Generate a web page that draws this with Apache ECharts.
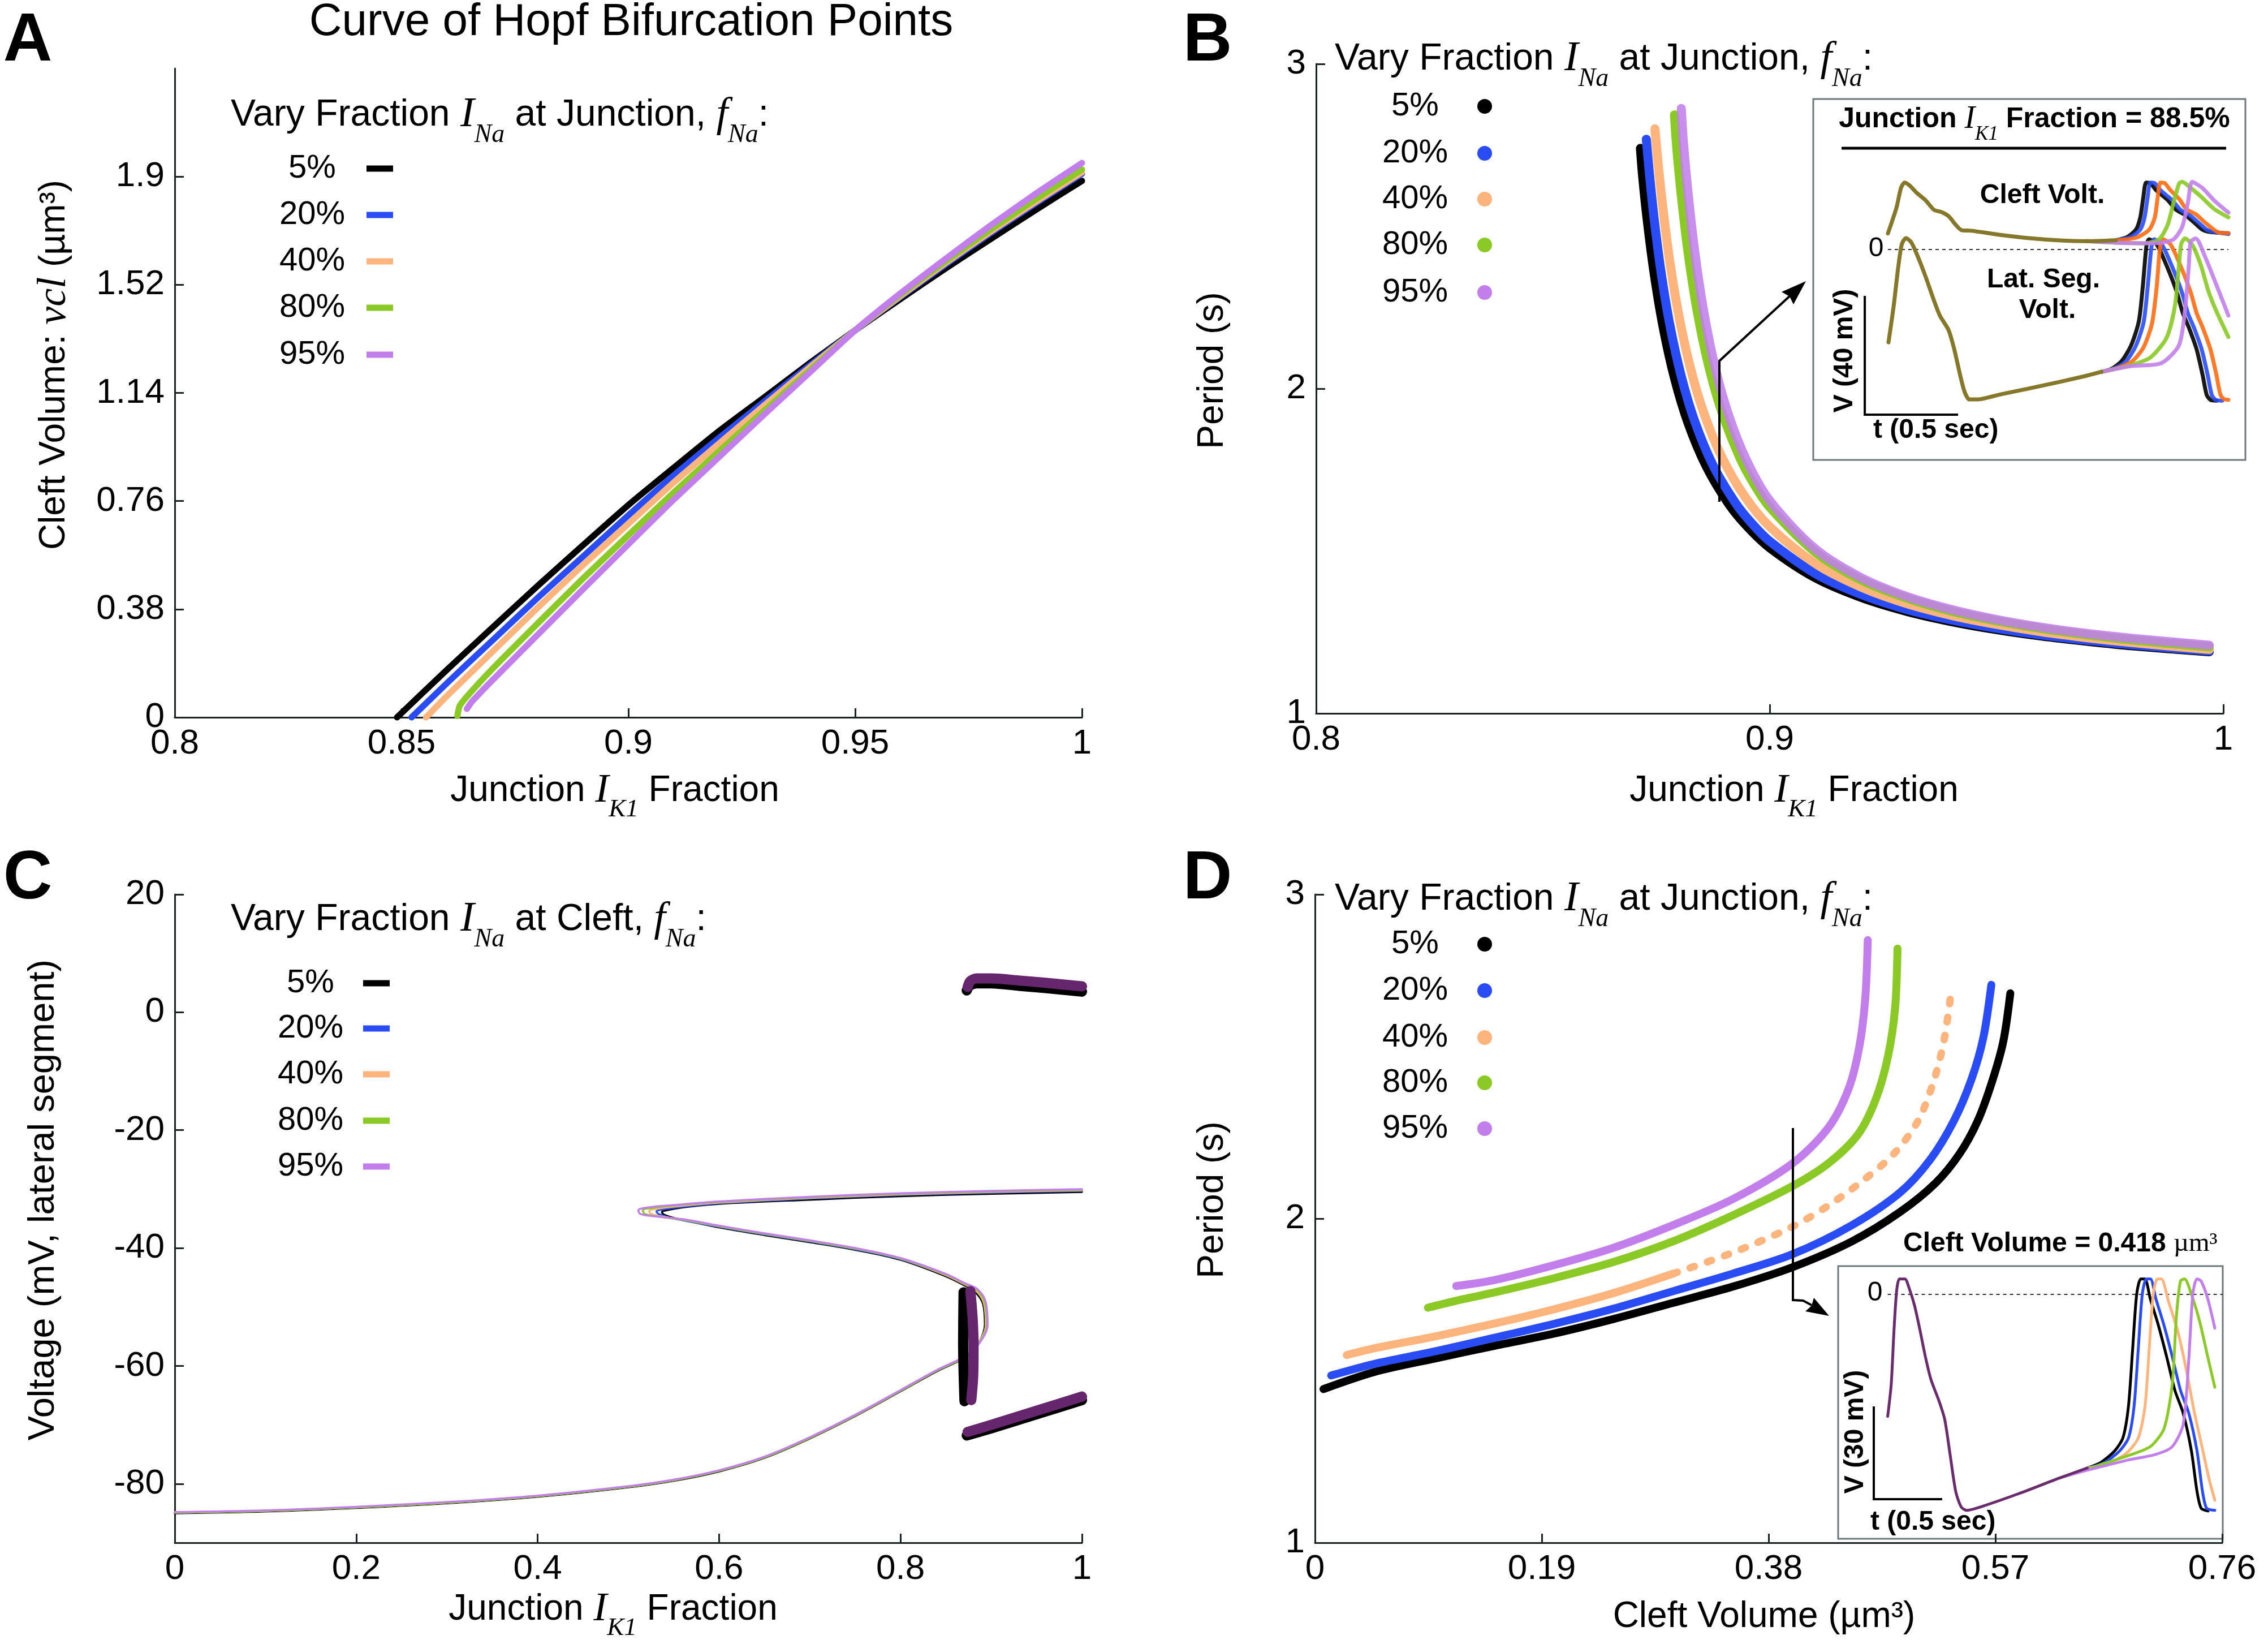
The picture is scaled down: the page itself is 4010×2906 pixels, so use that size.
<!DOCTYPE html>
<html><head><meta charset="utf-8">
<script src="https://cdn.jsdelivr.net/npm/echarts@6/dist/echarts.min.js"></script>
<style>html,body{margin:0;padding:0;background:#fff}#c{width:4010px;height:2906px}</style>
</head><body><div id="c"></div>
<script>
// ---------------- data ----------------
const fNaLabels = ['5%','20%','40%','80%','95%'];
const seriesColors = ['#000000','#2a4cf5','#fdb47d','#8ac926','#c27feb'];

// Panel A: cleft volume vs junction IK1 fraction
const aTicksX = [0.8,0.85,0.9,0.95,1];
const aTicksY = [0,0.38,0.76,1.14,1.52,1.9];
const aBlack = [[0.849,0],[0.86,0.167],[0.87,0.315],[0.88,0.462],[0.89,0.605],[0.9,0.746],[0.91,0.877],[0.92,1.006],[0.93,1.125],[0.94,1.245],[0.95,1.36],[0.96,1.47],[0.97,1.578],[0.98,1.682],[0.99,1.785],[1.0,1.885]];
const aBlue = [[0.8522,0],[0.86,0.12],[0.87,0.27],[0.88,0.42],[0.89,0.565],[0.9,0.71],[0.91,0.85],[0.92,0.982],[0.93,1.11],[0.94,1.237],[0.95,1.36],[0.96,1.478],[0.97,1.592],[0.98,1.703],[0.99,1.808],[1.0,1.91]];
const aOrange = [[0.8554,0],[0.86,0.075],[0.87,0.23],[0.88,0.385],[0.89,0.535],[0.9,0.68],[0.91,0.825],[0.92,0.962],[0.93,1.097],[0.94,1.23],[0.95,1.36],[0.96,1.48],[0.97,1.597],[0.98,1.708],[0.99,1.813],[1.0,1.915]];
const aGreen = [[0.8623,0.005],[0.8628,0.04],[0.8645,0.075],[0.87,0.17],[0.88,0.33],[0.89,0.488],[0.9,0.64],[0.91,0.79],[0.92,0.935],[0.93,1.078],[0.94,1.22],[0.95,1.36],[0.96,1.485],[0.97,1.603],[0.98,1.716],[0.99,1.823],[1.0,1.925]];
const aPurple = [[0.8644,0.03],[0.8655,0.055],[0.87,0.13],[0.88,0.29],[0.89,0.45],[0.9,0.608],[0.91,0.765],[0.92,0.915],[0.93,1.065],[0.94,1.212],[0.95,1.36],[0.96,1.49],[0.97,1.612],[0.98,1.73],[0.99,1.842],[1.0,1.948]];

// Panel B: period vs junction IK1 fraction
const bTicksX = [0.8,0.9,1];
const bTicksY = [1,2,3];
const bBlack = [[0.8715,2.74],[0.872,2.652],[0.873,2.519],[0.8745,2.357],[0.8765,2.19],[0.879,2.033],[0.882,1.894],[0.886,1.761],[0.891,1.644],[0.895,1.576],[0.9,1.51],[0.91,1.418],[0.92,1.358],[0.93,1.315],[0.94,1.283],[0.95,1.258],[0.96,1.238],[0.97,1.222],[0.98,1.208],[0.9969,1.19]];
const bBlue = [[0.8728,2.768],[0.8735,2.659],[0.8745,2.526],[0.876,2.363],[0.878,2.195],[0.8805,2.038],[0.8835,1.898],[0.8875,1.764],[0.8925,1.647],[0.896,1.586],[0.9,1.53],[0.91,1.431],[0.92,1.367],[0.93,1.321],[0.94,1.288],[0.95,1.262],[0.96,1.241],[0.97,1.225],[0.98,1.211],[0.9969,1.192]];
const bOrange = [[0.8747,2.8],[0.8755,2.679],[0.8765,2.55],[0.878,2.389],[0.88,2.223],[0.8825,2.065],[0.8855,1.924],[0.8895,1.788],[0.8945,1.668],[0.9,1.575],[0.91,1.462],[0.92,1.39],[0.93,1.339],[0.94,1.302],[0.95,1.274],[0.96,1.251],[0.97,1.233],[0.98,1.218],[0.9969,1.197]];
const bGreen = [[0.879,2.843],[0.8795,2.743],[0.8805,2.597],[0.882,2.42],[0.884,2.24],[0.8865,2.073],[0.8895,1.926],[0.8935,1.785],[0.8965,1.707],[0.9,1.635],[0.91,1.497],[0.92,1.412],[0.93,1.356],[0.94,1.315],[0.95,1.285],[0.96,1.261],[0.97,1.242],[0.98,1.226],[0.9969,1.205]];
const bPurple = [[0.8805,2.863],[0.881,2.754],[0.882,2.602],[0.8835,2.419],[0.8855,2.234],[0.888,2.063],[0.891,1.916],[0.895,1.776],[0.9,1.655],[0.91,1.507],[0.92,1.419],[0.93,1.361],[0.94,1.32],[0.95,1.289],[0.96,1.265],[0.97,1.246],[0.98,1.231],[0.9969,1.21]];

// Panel C: lateral segment voltage vs junction IK1 fraction
const cTicksX = [0,0.2,0.4,0.6,0.8,1];
const cTicksY = [-80,-60,-40,-20,0,20];
const cBlack = [[0,-85.0],[0.1,-84.7],[0.2,-84.1],[0.3,-83.3],[0.4,-82.2],[0.5,-80.6],[0.55,-79.5],[0.6,-77.9],[0.65,-75.6],[0.7,-72.3],[0.75,-68.5],[0.8,-64.3],[0.84,-60.9],[0.874,-58.3],[0.886,-56.2],[0.893,-53.0],[0.891,-49.5],[0.882,-47.4],[0.87,-46.3],[0.85,-44.8],[0.8,-42.0],[0.75,-40.3],[0.7,-39.0],[0.65,-37.8],[0.6,-36.5],[0.565,-35.4],[0.548,-34.8],[0.539,-34.3],[0.537,-33.9],[0.545,-33.5],[0.56,-33.1],[0.6,-32.5],[0.7,-31.8],[0.8,-31.2],[0.9,-30.8],[1.0,-30.5]];
const cBlue = [[0,-84.9],[0.1,-84.6],[0.2,-84.0],[0.3,-83.2],[0.4,-82.1],[0.5,-80.5],[0.55,-79.4],[0.6,-77.8],[0.65,-75.5],[0.7,-72.2],[0.75,-68.4],[0.8,-64.2],[0.84,-60.8],[0.874,-58.2],[0.886,-56.1],[0.894,-53.0],[0.892,-49.4],[0.883,-47.2],[0.87,-46.1],[0.85,-44.6],[0.8,-41.9],[0.75,-40.2],[0.7,-38.9],[0.65,-37.7],[0.6,-36.4],[0.56,-35.3],[0.542,-34.7],[0.533,-34.2],[0.531,-33.8],[0.54,-33.4],[0.56,-33.0],[0.6,-32.4],[0.7,-31.6],[0.8,-31.0],[0.9,-30.6],[1.0,-30.3]];
const cOrange = [[0,-84.9],[0.1,-84.6],[0.2,-84.0],[0.3,-83.2],[0.4,-82.1],[0.5,-80.5],[0.55,-79.4],[0.6,-77.8],[0.65,-75.5],[0.7,-72.2],[0.75,-68.4],[0.8,-64.2],[0.84,-60.8],[0.874,-58.2],[0.886,-56.1],[0.894,-53.0],[0.892,-49.4],[0.883,-47.2],[0.87,-46.1],[0.85,-44.6],[0.8,-41.8],[0.75,-40.1],[0.7,-38.8],[0.65,-37.6],[0.6,-36.3],[0.56,-35.2],[0.535,-34.6],[0.525,-34.2],[0.523,-33.7],[0.533,-33.3],[0.555,-32.9],[0.6,-32.3],[0.7,-31.5],[0.8,-30.9],[0.9,-30.5],[1.0,-30.2]];
const cGreen = [[0,-84.9],[0.1,-84.6],[0.2,-84.0],[0.3,-83.2],[0.4,-82.1],[0.5,-80.5],[0.55,-79.4],[0.6,-77.8],[0.65,-75.5],[0.7,-72.2],[0.75,-68.4],[0.8,-64.2],[0.84,-60.8],[0.874,-58.2],[0.887,-56.0],[0.895,-53.0],[0.893,-49.3],[0.884,-47.1],[0.87,-46.0],[0.85,-44.5],[0.8,-41.8],[0.75,-40.1],[0.7,-38.8],[0.65,-37.6],[0.6,-36.3],[0.56,-35.2],[0.53,-34.6],[0.518,-34.2],[0.516,-33.6],[0.527,-33.2],[0.55,-32.8],[0.6,-32.2],[0.7,-31.4],[0.8,-30.8],[0.9,-30.4],[1.0,-30.1]];
const cPurple = [[0,-84.8],[0.1,-84.5],[0.2,-83.9],[0.3,-83.1],[0.4,-82.0],[0.5,-80.4],[0.55,-79.3],[0.6,-77.7],[0.65,-75.4],[0.7,-72.1],[0.75,-68.3],[0.8,-64.1],[0.84,-60.7],[0.874,-58.1],[0.888,-55.9],[0.896,-53.0],[0.894,-49.2],[0.885,-47.0],[0.87,-45.9],[0.85,-44.4],[0.8,-41.7],[0.75,-40.0],[0.7,-38.7],[0.65,-37.5],[0.6,-36.2],[0.56,-35.1],[0.527,-34.6],[0.513,-34.2],[0.511,-33.6],[0.522,-33.1],[0.55,-32.7],[0.6,-32.1],[0.7,-31.3],[0.8,-30.7],[0.9,-30.3],[1.0,-30.0]];
// Hopf (periodic orbit max/min) branches
const cHopfTopBlack = [[0.873,3.7],[0.876,4.5],[0.884,4.9],[0.9,4.9],[0.93,4.5],[0.96,4.1],[1.0,3.5]];
const cHopfMidBlack = [[0.8695,-47.5],[0.869,-56.0],[0.8705,-66.0]];
const cHopfBotBlack = [[0.873,-71.8],[0.9,-70.6],[0.95,-68.2],[1.0,-65.8]];
const cHopfTop = [[0.874,4.3],[0.877,5.3],[0.884,5.75],[0.9,5.75],[0.93,5.4],[0.96,5.0],[1.0,4.4]];
const cHopfMid = [[0.877,-47.3],[0.8795,-52.0],[0.8805,-57.0],[0.88,-62.0],[0.878,-65.8]];
const cHopfBot = [[0.874,-71.2],[0.9,-70.0],[0.95,-67.6],[1.0,-65.2]];

// Panel D: period vs cleft volume
const dTicksX = [0,0.19,0.38,0.57,0.76];
const dTicksY = [1,2,3];
const dBlack = [[0.0071,1.474],[0.05,1.527],[0.1,1.568],[0.15,1.607],[0.2,1.645],[0.25,1.69],[0.3,1.74],[0.35,1.79],[0.4,1.85],[0.45,1.93],[0.49,2.02],[0.52,2.11],[0.54,2.2],[0.555,2.3],[0.567,2.42],[0.5766,2.546],[0.5825,2.695]];
const dBlue = [[0.0136,1.516],[0.05,1.552],[0.1,1.59],[0.15,1.632],[0.2,1.675],[0.25,1.722],[0.3,1.776],[0.35,1.83],[0.4,1.89],[0.45,1.98],[0.49,2.08],[0.515,2.18],[0.535,2.3],[0.55,2.43],[0.56,2.56],[0.5666,2.721]];
const dOrange = [[0.0266,1.579],[0.05,1.6],[0.1,1.636],[0.15,1.676],[0.2,1.72],[0.25,1.77],[0.3,1.83],[0.35,1.895],[0.4,1.975],[0.43,2.04],[0.46,2.12],[0.485,2.2],[0.505,2.3],[0.518,2.42],[0.527,2.55],[0.5335,2.715]];
const dGreen = [[0.0946,1.725],[0.12,1.748],[0.15,1.772],[0.2,1.816],[0.25,1.866],[0.3,1.93],[0.35,2.01],[0.4,2.1],[0.43,2.17],[0.455,2.26],[0.47,2.37],[0.48,2.5],[0.486,2.65],[0.488,2.833]];
const dPurple = [[0.1183,1.792],[0.15,1.81],[0.2,1.856],[0.25,1.91],[0.3,1.98],[0.35,2.06],[0.4,2.17],[0.43,2.28],[0.447,2.4],[0.456,2.53],[0.461,2.68],[0.4631,2.859]];

// Inset B (junction IK1 fraction = 88.5%): time (s) vs voltage (mV)
const ibLatShared = [[0.003,-31.2],[0.031,-18.9],[0.054,-6.5],[0.074,1.7],[0.096,3.8],[0.124,2.5],[0.155,-1.6],[0.201,-9.0],[0.247,-17.2],[0.278,-22.2],[0.325,-27.1],[0.356,-33.7],[0.386,-42.0],[0.41,-47.7],[0.436,-50.4],[0.479,-50.4],[0.603,-48.7],[0.757,-46.7],[0.912,-44.6],[1.066,-42.4],[1.144,-41.1]];
const ibLatBlack = [[1.144,-41.1],[1.196,-40.2],[1.252,-37.5],[1.303,-32.2],[1.344,-24.2],[1.366,-12.1],[1.385,1.2],[1.399,3.4],[1.44,1.7],[1.493,-5.4],[1.547,-14.2],[1.58,-21.4],[1.612,-26.2],[1.654,-33.6],[1.686,-42.2],[1.708,-48.9],[1.73,-50.6],[1.761,-50.8]];
const ibLatBlue = [[1.144,-41.1],[1.21,-40.0],[1.275,-37.6],[1.328,-32.4],[1.37,-24.4],[1.392,-12.3],[1.412,1.0],[1.426,3.4],[1.467,1.7],[1.52,-5.4],[1.574,-14.2],[1.607,-21.4],[1.639,-26.2],[1.681,-33.6],[1.713,-42.2],[1.735,-48.9],[1.757,-50.6],[1.79,-50.8]];
const ibLatOrange = [[1.144,-41.1],[1.23,-39.8],[1.31,-37.5],[1.37,-32.8],[1.415,-24.8],[1.44,-12.5],[1.458,0.8],[1.473,3.4],[1.514,1.7],[1.567,-5.4],[1.621,-14.2],[1.654,-21.4],[1.686,-26.2],[1.728,-33.6],[1.76,-42.2],[1.782,-48.9],[1.804,-50.4],[1.824,-50.5]];
const ibLatGreen = [[1.144,-41.1],[1.3,-38.9],[1.408,-36.2],[1.494,-29.5],[1.538,-18.8],[1.559,-5.4],[1.571,1.8],[1.592,3.7],[1.634,1.2],[1.677,-5.4],[1.718,-14.2],[1.76,-20.8],[1.824,-29.4]];
const ibLatPurple = [[1.144,-41.1],[1.3,-39.2],[1.464,-38.2],[1.559,-32.2],[1.592,-20.2],[1.612,-5.4],[1.622,2.5],[1.649,3.7],[1.697,-2.1],[1.761,-12.1],[1.824,-22.2]];
const ibCleftShared = [[0,5.4],[0.046,14.1],[0.07,20.7],[0.09,22.5],[0.116,21.5],[0.155,19.0],[0.201,16.6],[0.247,13.3],[0.286,12.6],[0.325,11.2],[0.363,8.3],[0.394,6.5],[0.448,6.3],[0.603,4.9],[0.757,3.8],[0.912,3.1],[1.066,2.8],[1.221,3.1]];
const ibCleftBlack = [[1.221,3.1],[1.283,4.2],[1.329,6.7],[1.352,10.8],[1.368,17.4],[1.383,22.5],[1.406,22.3],[1.437,19.9],[1.499,16.6],[1.545,13.3],[1.592,11.6],[1.638,9.2],[1.684,6.7],[1.715,6.0],[1.824,5.4]];
const ibCleftBlue = [[1.221,3.1],[1.3,4.2],[1.352,6.7],[1.375,10.8],[1.391,17.4],[1.406,22.5],[1.429,22.3],[1.46,19.9],[1.522,16.6],[1.568,13.3],[1.615,11.6],[1.661,9.2],[1.707,6.7],[1.738,6.0],[1.824,5.2]];
const ibCleftOrange = [[1.221,3.1],[1.33,4.0],[1.4,6.7],[1.43,10.8],[1.445,17.4],[1.46,22.5],[1.483,22.3],[1.514,19.9],[1.56,17.0],[1.6,13.5],[1.65,11.8],[1.7,9.0],[1.75,6.5],[1.78,5.6],[1.824,5.5]];
const ibCleftGreen = [[1.066,2.8],[1.221,2.3],[1.375,2.1],[1.452,3.4],[1.499,8.3],[1.53,15.7],[1.561,22.3],[1.576,22.7],[1.622,20.7],[1.684,17.4],[1.746,13.7],[1.824,10.8]];
const ibCleftPurple = [[1.066,2.8],[1.221,2.3],[1.375,2.1],[1.452,2.2],[1.53,3.4],[1.576,7.5],[1.607,15.7],[1.63,22.7],[1.684,20.7],[1.746,16.6],[1.824,12.4]];
const ibZero = [[0,0],[1.824,0]];
const ibScaleBar = [[-0.124,-15.6],[-0.124,-55.5],[0.376,-55.5]];

// Inset D (cleft volume = 0.418 um^3)
const idShared = [[0,-39.4],[0.026,-28.9],[0.046,-11.6],[0.066,1.4],[0.086,5.0],[0.126,5.0],[0.156,2.1],[0.196,-3.6],[0.236,-11.6],[0.276,-20.3],[0.316,-27.5],[0.377,-34.7],[0.417,-40.5],[0.457,-52.1],[0.497,-63.7],[0.537,-68.7],[0.577,-69.8],[0.677,-68.7],[0.957,-64.4],[1.258,-59.3],[1.458,-56.1]];
const idBlack = [[1.458,-56.1],[1.558,-54.3],[1.658,-50.6],[1.719,-46.3],[1.759,-36.2],[1.789,-18.1],[1.819,0],[1.849,5.0],[1.879,5.0],[1.919,-1.5],[1.979,-10.2],[2.039,-20.3],[2.099,-31.1],[2.159,-38.4],[2.219,-50.6],[2.26,-63.7],[2.29,-69.1],[2.34,-70.0]];
const idBlue = [[1.458,-56.1],[1.578,-54.5],[1.69,-50.8],[1.76,-46.3],[1.8,-36.2],[1.83,-18.1],[1.86,0],[1.89,5.0],[1.92,5.0],[1.96,-1.5],[2.02,-10.2],[2.08,-20.3],[2.14,-31.1],[2.2,-38.4],[2.26,-50.6],[2.3,-63.7],[2.33,-69.1],[2.39,-69.8]];
const idOrange = [[1.458,-56.1],[1.6,-54.8],[1.74,-51.5],[1.83,-46.5],[1.88,-36.2],[1.91,-18.1],[1.94,0],[1.97,5.0],[2.0,5.0],[2.05,-2.0],[2.12,-12.0],[2.18,-24.0],[2.24,-38.0],[2.3,-50.0],[2.35,-60.0],[2.39,-66.5]];
const idGreen = [[1.258,-59.3],[1.458,-56.5],[1.558,-55.0],[1.759,-52.1],[1.919,-49.2],[2.019,-43.4],[2.079,-29.0],[2.109,-7.3],[2.139,4.3],[2.169,5.0],[2.219,0],[2.279,-8.7],[2.339,-20.3],[2.39,-30.0]];
const idPurple = [[1.258,-59.3],[1.458,-56.8],[1.558,-55.7],[1.759,-53.5],[1.959,-51.7],[2.079,-49.2],[2.159,-42.0],[2.199,-21.7],[2.229,0],[2.259,5.0],[2.29,4.3],[2.339,-1.5],[2.39,-10.9]];
const idZero = [[0,0],[2.448,0]];
const idScaleBar = [[-0.1017,-36.2],[-0.1017,-66.2],[0.398,-66.2]];

// ---------------- rendering ----------------
const SANS = '"Liberation Sans", Arial, Helvetica, sans-serif';
const SERIF = '"Liberation Serif", "Times New Roman", Times, serif';
const AX = '#1b2222';
const insetOrange = '#ff6b12';
const olive = '#86782a';
const plum = '#6a2c6c';
const hopfColor = '#66266e';

function fmt(v){ return String(Math.round(v*100)/100); }

function mainX(gi, min, max, ticks){
  return {gridIndex:gi, type:'value', min:min, max:max,
    axisLine:{show:true, onZero:false, lineStyle:{color:AX, width:3}},
    axisTick:{show:true, inside:true, length:16, customValues:ticks, lineStyle:{color:AX, width:3}},
    axisLabel:{show:true, customValues:ticks, formatter:fmt, fontSize:62, fontFamily:SANS, color:'#000', margin:16},
    splitLine:{show:false}};
}
function mainY(gi, min, max, ticks){
  return {gridIndex:gi, type:'value', min:min, max:max,
    axisLine:{show:true, onZero:false, lineStyle:{color:AX, width:3}},
    axisTick:{show:true, inside:true, length:16, customValues:ticks, lineStyle:{color:AX, width:3}},
    axisLabel:{show:true, customValues:ticks, formatter:fmt, fontSize:62, fontFamily:SANS, color:'#000', margin:18},
    splitLine:{show:false}};
}
function hiddenAxis(gi, min, max){
  return {gridIndex:gi, type:'value', min:min, max:max, show:false, splitLine:{show:false}};
}
function ln(data, gi, color, width, extra){
  return Object.assign({type:'line', xAxisIndex:gi, yAxisIndex:gi, data:data, showSymbol:false, symbol:'none',
    silent:true, animation:false, clip:false, smooth:0.3, z:3,
    lineStyle:{color:color, width:width, cap:'round', join:'round'}}, extra||{});
}

const series = [];
// A
[aBlack,aBlue,aOrange,aGreen,aPurple].forEach((d,k)=>series.push(ln(d,0,seriesColors[k],11,{smooth:0.2})));
// B
[bBlack,bBlue,bOrange,bGreen,bPurple].forEach((d,k)=>series.push(ln(d,1,seriesColors[k],16,{smooth:0.3, lineStyle:{color:seriesColors[k], width:16, cap:'round', join:'round', opacity:k===4?0.88:1}})));
// C
[cBlack,cBlue,cOrange,cGreen,cPurple].forEach((d,k)=>series.push(ln(d,2,seriesColors[k],3.5,{smooth:0.35})));
[cHopfTopBlack,cHopfMidBlack,cHopfBotBlack].forEach(d=>series.push(ln(d,2,'#000',18,{smooth:0.3,z:4})));
[cHopfTop,cHopfMid,cHopfBot].forEach(d=>series.push(ln(d,2,hopfColor,18,{smooth:0.3,z:5})));
// D
const splitIdx = dOrange.findIndex(p=>p[0]>=0.3);
series.push(ln(dBlack,3,seriesColors[0],14));
series.push(ln(dBlue,3,seriesColors[1],14));
series.push(ln(dOrange.slice(0,splitIdx+1),3,seriesColors[2],14));
series.push(ln(dOrange.slice(splitIdx),3,seriesColors[2],13,{lineStyle:{color:seriesColors[2],width:13,cap:'round',join:'round',type:[8,24]}}));
series.push(ln(dGreen,3,seriesColors[3],14));
series.push(ln(dPurple,3,seriesColors[4],14));
// Inset B
series.push(ln(ibZero,4,'#333',2,{smooth:false,lineStyle:{color:'#333',width:2,type:[6,6]}}));
series.push(ln(ibScaleBar,4,'#000',4,{smooth:false,lineStyle:{color:'#000',width:4,cap:'butt',join:'miter'}}));
const ibCols = ['#000000','#2a4cf5',insetOrange,'#8ac926','#c27feb'];
[ibLatBlack,ibLatBlue,ibLatOrange,ibLatGreen,ibLatPurple].forEach((d,k)=>series.push(ln(d,4,ibCols[k],7,{smooth:0.25,z:6, lineStyle:{color:ibCols[k],width:7,cap:'round',join:'round',opacity:0.9}})));
[ibCleftBlack,ibCleftBlue,ibCleftOrange,ibCleftGreen,ibCleftPurple].forEach((d,k)=>series.push(ln(d,4,ibCols[k],7,{smooth:0.25,z:6, lineStyle:{color:ibCols[k],width:7,cap:'round',join:'round',opacity:0.9}})));
series.push(ln(ibLatShared,4,olive,7,{smooth:0.25,z:7}));
series.push(ln(ibCleftShared,4,olive,7,{smooth:0.25,z:7}));
// Inset D
series.push(ln(idZero,5,'#333',2,{smooth:false,lineStyle:{color:'#333',width:2,type:[6,6]}}));
series.push(ln(idScaleBar,5,'#000',4,{smooth:false,lineStyle:{color:'#000',width:4,cap:'butt',join:'miter'}}));
const idCols = ['#000000','#2a4cf5','#fdb47d','#8ac926','#c27feb'];
[idBlack,idBlue,idOrange,idGreen,idPurple].forEach((d,k)=>series.push(ln(d,5,idCols[k],5,{smooth:0.25,z:6})));
series.push(ln(idShared,5,plum,5,{smooth:0.25,z:7}));

// ---------- text helpers ----------
function mkRich(size, bold){
  const w = bold ? 'bold' : 'normal';
  return {
    n:{fontFamily:SANS,fontSize:size,fontWeight:w,fill:'#000'},
    i:{fontFamily:SERIF,fontStyle:'italic',fontSize:Math.round(size*1.12),fill:'#000'},
    s:{fontFamily:SERIF,fontStyle:'italic',fontSize:Math.round(size*0.7),fill:'#000',padding:[Math.round(size*1.05),0,0,0]},
    u:{fontFamily:SERIF,fontSize:Math.round(size*0.98),fill:'#000'}
  };
}
function txt(x,y,text,opt){
  opt = opt||{};
  const size = opt.size||64;
  const al = opt.align||'center';
  return {type:'text', x:x, y:y, rotation:opt.rot||0, z:50, silent:true,
    style:{text:text, rich:mkRich(size,opt.bold), font:(opt.bold?'bold ':'')+size+'px '+SANS, fill:'#000',
      align:al, verticalAlign:'middle', textAlign:al, textVerticalAlign:'middle'}};
}
const g = [];
// title and panel letters
g.push(txt(1116,40,'Curve of Hopf Bifurcation Points',{size:80}));
g.push(txt(49,74,'A',{size:120,bold:true}));
g.push(txt(2135,74,'B',{size:120,bold:true}));
g.push(txt(49,1555,'C',{size:120,bold:true}));
g.push(txt(2135,1555,'D',{size:120,bold:true}));
// axis titles
const xIK1 = '{n|Junction }{i|I}{s|K1}{n| Fraction}';
g.push(txt(1087,1398,xIK1,{size:64}));
g.push(txt(3172,1398,xIK1,{size:64}));
g.push(txt(1084,2845,xIK1,{size:64}));
g.push(txt(3119,2858,'{n|Cleft Volume (µm³)}',{size:64}));
g.push(txt(96,645,'{n|Cleft Volume: }{i|vcl}{n| (µm³)}',{size:64,rot:Math.PI/2}));
g.push(txt(2144,655,'Period (s)',{size:64,rot:Math.PI/2}));
g.push(txt(77,2121,'Voltage (mV, lateral segment)',{size:65,rot:Math.PI/2}));
g.push(txt(2144,2121,'Period (s)',{size:64,rot:Math.PI/2}));
// legends
const legJ = '{n|Vary Fraction }{i|I}{s|Na}{n| at Junction, }{i|f}{s|Na}{n|:}';
const legC = '{n|Vary Fraction }{i|I}{s|Na}{n| at Cleft, }{i|f}{s|Na}{n|:}';
g.push(txt(408,204,legJ,{size:66,align:'left'}));
g.push(txt(2360,105,legJ,{size:66,align:'left'}));
g.push(txt(408,1626,legC,{size:66,align:'left'}));
g.push(txt(2360,1590,legJ,{size:66,align:'left'}));
const rowsA = [298,380,462,544,627];
const rowsB = [188,271,352,433,517];
const rowsC = [1738,1818,1899,1981,2062];
const rowsD = [1669,1751,1834,1914,1995];
fNaLabels.forEach((lab,k)=>{
  g.push(txt(552,rowsA[k],lab,{size:58}));
  g.push({type:'rect',z:50,silent:true,shape:{x:648,y:rowsA[k]-5.5,width:47,height:11},style:{fill:seriesColors[k]}});
  g.push(txt(2502,rowsB[k],lab,{size:58}));
  g.push({type:'circle',z:50,silent:true,shape:{cx:2625,cy:rowsB[k],r:13},style:{fill:seriesColors[k]}});
  g.push(txt(549,rowsC[k],lab,{size:58}));
  g.push({type:'rect',z:50,silent:true,shape:{x:642,y:rowsC[k]-5.5,width:47,height:11},style:{fill:seriesColors[k]}});
  g.push(txt(2502,rowsD[k],lab,{size:58}));
  g.push({type:'circle',z:50,silent:true,shape:{cx:2625,cy:rowsD[k],r:13},style:{fill:seriesColors[k]}});
});
// inset B texts
g.push(txt(3597,211,'{n|Junction }{i|I}{s|K1}{n| Fraction = 88.5%}',{size:50,bold:true}));
g.push({type:'line',z:50,silent:true,shape:{x1:3256,y1:262,x2:3936,y2:262},style:{stroke:'#000',lineWidth:5}});
g.push(txt(3611,346,'Cleft Volt.',{size:48,bold:true}));
g.push(txt(3613,495,'Lat. Seg.',{size:48,bold:true}));
g.push(txt(3620,549,'Volt.',{size:48,bold:true}));
g.push(txt(3317,440,'0',{size:48}));
g.push(txt(3262,620,'V (40 mV)',{size:48,bold:true,rot:Math.PI/2}));
g.push(txt(3312,761,'t (0.5 sec)',{size:48,bold:true,align:'left'}));
// inset D texts
g.push(txt(3365,2199,'{n|Cleft Volume = 0.418 }{u|µm³}',{size:48,bold:true,align:'left'}));
g.push(txt(3315,2286,'0',{size:48}));
g.push(txt(3281,2531,'V (30 mV)',{size:48,bold:true,rot:Math.PI/2}));
g.push(txt(3307,2691,'t (0.5 sec)',{size:48,bold:true,align:'left'}));
// arrows
g.push({type:'polyline',z:50,silent:true,shape:{points:[[3040,887],[3040,638],[3168,520]]},style:{stroke:'#000',lineWidth:4,fill:null}});
g.push({type:'polygon',z:50,silent:true,shape:{points:[[3193,497],[3171,538],[3164,524],[3150,516]]},style:{fill:'#000'}});
g.push({type:'polyline',z:50,silent:true,shape:{points:[[3170,1994],[3170,2298],[3188,2299],[3203,2307]]},style:{stroke:'#000',lineWidth:4,fill:null}});
g.push({type:'polygon',z:50,silent:true,shape:{points:[[3234,2326],[3192,2318],[3203,2308],[3207,2294]]},style:{fill:'#000'}});

const option = {
  backgroundColor:'#ffffff',
  animation:false,
  grid:[
    {left:309, top:121, width:1604, height:1147, outerBoundsMode:'none'},
    {left:2327, top:113, width:1604, height:1148, outerBoundsMode:'none'},
    {left:309, top:1581, width:1604, height:1146, outerBoundsMode:'none'},
    {left:2325, top:1581, width:1604, height:1146, outerBoundsMode:'none'},
    {left:3206, top:175, width:764, height:638, show:true, backgroundColor:'#fff', borderColor:'#6e7878', borderWidth:3, outerBoundsMode:'none'},
    {left:3250, top:2238, width:680, height:482, show:true, backgroundColor:'#fff', borderColor:'#6e7878', borderWidth:3, outerBoundsMode:'none'}
  ],
  xAxis:[
    mainX(0,0.8,1,aTicksX), mainX(1,0.8,1,bTicksX), mainX(2,0,1,cTicksX), mainX(3,0,0.76,dTicksX),
    hiddenAxis(4,-0.4,1.915), hiddenAxis(5,-0.362,2.448)
  ],
  yAxis:[
    mainY(0,0,2.28,aTicksY), mainY(1,1,3,bTicksY), mainY(2,-90,20,cTicksY), mainY(3,1,3,dTicksY),
    hiddenAxis(4,-70.72,50.57), hiddenAxis(5,-78.98,9.14)
  ],
  series:series,
  graphic:{elements:g}
};
const chart = echarts.init(document.getElementById('c'), null, {renderer:'canvas', width:4010, height:2906});
chart.setOption(option);
</script>
</body></html>
